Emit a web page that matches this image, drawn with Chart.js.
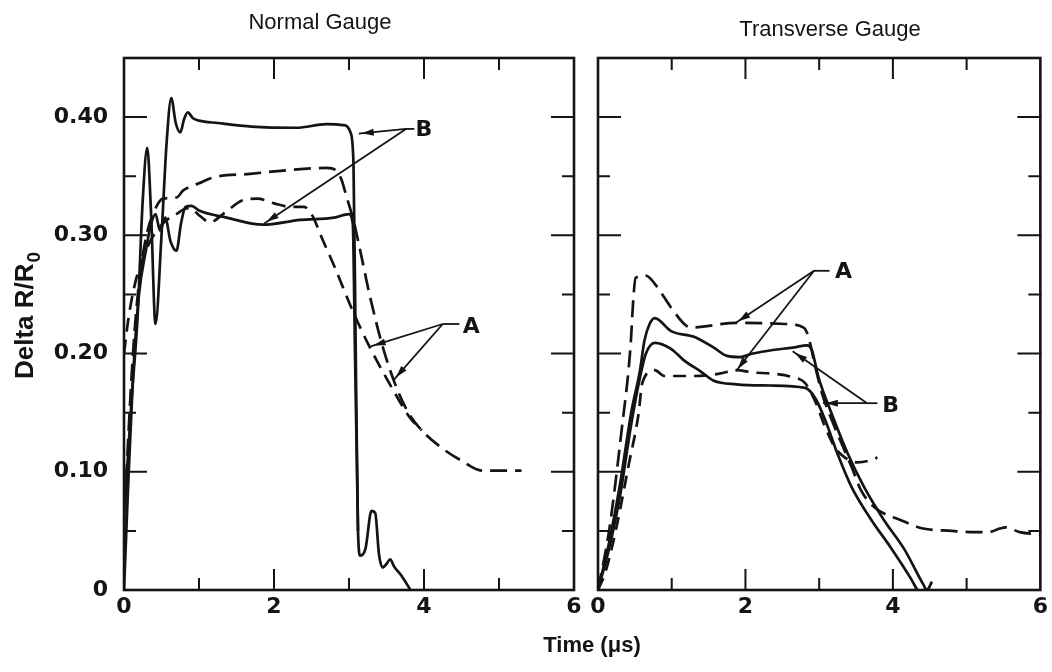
<!DOCTYPE html>
<html><head><meta charset="utf-8">
<script src="https://cdn.jsdelivr.net/npm/chart.js@4.4.1/dist/chart.umd.min.js"></script>
<style>
html,body{margin:0;padding:0;background:#fff;}
#wrap{position:relative;width:1052px;height:672px;background:#fff;}
#wrap canvas{position:absolute;left:0;top:0;}
</style></head><body>
<div id="wrap"><canvas id="c1" width="1052" height="672"></canvas><canvas id="c2" width="1052" height="672"></canvas></div>
<script>
// ---------- Normal Gauge (left panel) ----------
const normB1_t = [0, 0.1, 0.18, 0.25, 0.31, 0.36, 0.42, 0.5, 0.57, 0.63, 0.69, 0.75, 0.8, 0.85, 0.92, 1.0, 1.25, 1.7, 2.3, 2.7, 2.95, 3.02, 3.06, 3.09, 3.12, 3.15, 3.22, 3.3, 3.35, 3.4, 3.45, 3.5, 3.55, 3.6, 3.7, 3.82];
const normB1_v = [0.06, 0.16, 0.23, 0.33, 0.374, 0.32, 0.225, 0.30, 0.38, 0.416, 0.395, 0.387, 0.398, 0.404, 0.399, 0.397, 0.395, 0.392, 0.391, 0.394, 0.393, 0.387, 0.36, 0.2, 0.05, 0.029, 0.035, 0.067, 0.065, 0.03, 0.019, 0.022, 0.026, 0.02, 0.012, 0.0];
const normB2_t = [0, 0.05, 0.12, 0.2, 0.3, 0.35, 0.42, 0.48, 0.55, 0.62, 0.7, 0.76, 0.82, 0.9, 1.0, 1.37, 1.85, 2.35, 2.8, 3.0, 3.05, 3.08, 3.12];
const normB2_v = [0, 0.08, 0.18, 0.25, 0.29, 0.307, 0.318, 0.304, 0.315, 0.295, 0.287, 0.31, 0.324, 0.325, 0.321, 0.315, 0.309, 0.313, 0.315, 0.318, 0.31, 0.2, 0.05];
const normA1_t = [0, 0.05, 0.12, 0.2, 0.3, 0.4, 0.52, 0.7, 0.79, 1.0, 1.19, 1.68, 2.35, 2.7, 2.84, 2.9, 2.97, 3.05, 3.15, 3.27, 3.44, 3.61, 3.8, 3.97, 4.24, 4.51, 4.77, 5.3];
const normA1_v = [0.05, 0.12, 0.2, 0.26, 0.3, 0.32, 0.331, 0.332, 0.338, 0.344, 0.349, 0.352, 0.356, 0.357, 0.354, 0.347, 0.332, 0.315, 0.287, 0.251, 0.208, 0.175, 0.149, 0.135, 0.12, 0.109, 0.101, 0.101];
const normA2_t = [0, 0.06, 0.15, 0.25, 0.35, 0.45, 0.55, 0.7, 0.8, 0.88, 1.0, 1.15, 1.32, 1.6, 1.78, 2.0, 2.23, 2.4, 2.5, 2.65, 2.79, 3.05, 3.28, 3.59, 3.81, 3.97];
const normA2_v = [0.2, 0.23, 0.26, 0.28, 0.295, 0.305, 0.312, 0.318, 0.322, 0.323, 0.317, 0.311, 0.318, 0.33, 0.331, 0.327, 0.324, 0.324, 0.318, 0.296, 0.276, 0.236, 0.205, 0.169, 0.146, 0.135];

// ---------- Transverse Gauge (right panel) ----------
const trA1_t = [0, 0.15, 0.32, 0.44, 0.48, 0.51, 0.65, 0.77, 0.99, 1.17, 1.25, 1.88, 2.55, 2.79, 2.85, 2.95, 3.04, 3.17, 3.31, 3.44, 3.57, 3.75, 4.11, 4.41, 4.8, 5.05, 5.3, 5.45, 5.53, 5.72, 6.0];
const trA1_v = [0, 0.05, 0.135, 0.205, 0.247, 0.264, 0.266, 0.259, 0.239, 0.225, 0.222, 0.226, 0.225, 0.222, 0.215, 0.188, 0.166, 0.144, 0.123, 0.104, 0.084, 0.07, 0.059, 0.052, 0.05, 0.049, 0.049, 0.052, 0.053, 0.049, 0.047];
const trB1_t = [0, 0.15, 0.3, 0.45, 0.57, 0.63, 0.7, 0.77, 0.99, 1.31, 1.57, 1.75, 1.92, 2.1, 2.37, 2.64, 2.84, 2.9, 2.99, 3.17, 3.39, 3.61, 3.88, 4.15, 4.41, 4.46, 4.53];
const trB1_v = [0, 0.04, 0.09, 0.15, 0.186, 0.211, 0.225, 0.23, 0.219, 0.214, 0.205, 0.198, 0.197, 0.2, 0.203, 0.205, 0.207, 0.203, 0.18, 0.149, 0.115, 0.087, 0.059, 0.035, 0.005, 0.0, 0.007];
const trB2_t = [0, 0.15, 0.3, 0.45, 0.57, 0.65, 0.77, 0.99, 1.17, 1.39, 1.57, 1.88, 2.33, 2.81, 2.95, 3.08, 3.25, 3.44, 3.71, 3.97, 4.24, 4.33];
const trB2_v = [0, 0.035, 0.08, 0.14, 0.18, 0.2, 0.209, 0.204, 0.194, 0.185, 0.177, 0.174, 0.173, 0.171, 0.162, 0.144, 0.115, 0.087, 0.059, 0.036, 0.01, 0.0];
const trA2_t = [0, 0.1, 0.24, 0.42, 0.55, 0.6, 0.77, 0.9, 1.3, 1.65, 1.88, 2.1, 2.37, 2.64, 2.81, 2.95, 3.08, 3.21, 3.35, 3.52, 3.71, 3.79];
const trA2_v = [0, 0.015, 0.05, 0.107, 0.149, 0.175, 0.186, 0.181, 0.181, 0.183, 0.186, 0.184, 0.183, 0.18, 0.175, 0.159, 0.138, 0.121, 0.112, 0.108, 0.11, 0.112];

// ---------- axis ticks and labels ----------
const xTickValues = [0, 1, 2, 3, 4, 5, 6];
const xTickLabels = ['0', '', '2', '', '4', '', '6'];
const yTickValues = [0, 0.05, 0.10, 0.15, 0.20, 0.25, 0.30, 0.35, 0.40, 0.45];
const yTickLabels = ['0', '', '0.10', '', '0.20', '', '0.30', '', '0.40', ''];

// ---------- annotations (data units) ----------
const normNotes = [['B', 4.0, 0.39], ['A', 4.63, 0.223]];
const normLeads = [[3.76, 0.39, 3.87, 0.39], [4.25, 0.225, 4.47, 0.225]];
const normArrows = [[3.76, 0.39, 3.13, 0.386], [3.76, 0.39, 1.87, 0.31], [4.25, 0.225, 3.29, 0.206], [4.25, 0.225, 3.6, 0.178]];
const trNotes = [['A', 3.33, 0.27], ['B', 3.97, 0.156]];
const trLeads = [[2.93, 0.27, 3.14, 0.27], [3.65, 0.158, 3.79, 0.158]];
const trArrows = [[2.93, 0.27, 1.87, 0.226], [2.93, 0.27, 1.87, 0.185], [3.65, 0.158, 2.64, 0.202], [3.65, 0.158, 3.05, 0.158]];

const INK = '#141414';
const FONT = "'Liberation Sans', Arial, Helvetica, sans-serif";
const NUMFONT = "'DejaVu Sans', 'Liberation Sans', sans-serif";

function pts(t, v) { return t.map((x, i) => ({ x: x, y: v[i] })); }
function line(t, v, dash) {
  return { data: pts(t, v), borderColor: INK, borderWidth: 2.7, borderDash: dash || [],
           pointRadius: 0, fill: false, cubicInterpolationMode: 'monotone', borderCapStyle: 'butt' };
}
function labelFor(values, labels) {
  return function (v) { const i = values.findIndex(a => Math.abs(a - v) < 1e-6); return i >= 0 ? labels[i] : ''; };
}
function isMajor(values, labels, v) { const i = values.findIndex(a => Math.abs(a - v) < 1e-6); return i >= 0 && labels[i] !== ''; }

const frameTicks = {
  id: 'frameTicks',
  afterDraw(chart) {
    const { ctx, chartArea: a, scales } = chart;
    ctx.save();
    ctx.strokeStyle = INK; ctx.lineWidth = 2.6; ctx.lineCap = 'square';
    ctx.strokeRect(a.left, a.top, a.right - a.left, a.bottom - a.top);
    ctx.lineWidth = 2;
    ctx.beginPath();
    scales.x.ticks.forEach(t => {
      if (t.value <= scales.x.min || t.value >= scales.x.max) return;
      const px = scales.x.getPixelForValue(t.value);
      const L = isMajor(xTickValues, xTickLabels, t.value) ? 20 : 11;
      ctx.moveTo(px, a.bottom); ctx.lineTo(px, a.bottom - L);
      ctx.moveTo(px, a.top); ctx.lineTo(px, a.top + L);
    });
    scales.y.ticks.forEach(t => {
      if (t.value <= scales.y.min + 1e-9 || t.value >= scales.y.max - 1e-9) return;
      const py = scales.y.getPixelForValue(t.value);
      const L = isMajor(yTickValues, yTickLabels, t.value) ? 22 : 11;
      ctx.moveTo(a.left, py); ctx.lineTo(a.left + L, py);
      ctx.moveTo(a.right, py); ctx.lineTo(a.right - L, py);
    });
    ctx.stroke();
    ctx.restore();
  }
};

const notesPlugin = {
  id: 'notes',
  afterDatasetsDraw(chart, args, opts) {
    const { ctx, scales } = chart;
    const X = v => scales.x.getPixelForValue(v), Y = v => scales.y.getPixelForValue(v);
    ctx.save();
    ctx.strokeStyle = INK; ctx.fillStyle = INK; ctx.lineWidth = 1.8;
    (opts.leads || []).forEach(s => {
      ctx.beginPath(); ctx.moveTo(X(s[0]), Y(s[1])); ctx.lineTo(X(s[2]), Y(s[3])); ctx.stroke();
    });
    (opts.arrows || []).forEach(s => {
      const x1 = X(s[0]), y1 = Y(s[1]), x2 = X(s[2]), y2 = Y(s[3]);
      ctx.beginPath(); ctx.moveTo(x1, y1); ctx.lineTo(x2, y2); ctx.stroke();
      const ang = Math.atan2(y2 - y1, x2 - x1), len = 12, w = 3.5;
      const bx = x2 - Math.cos(ang) * 3, by = y2 - Math.sin(ang) * 3;
      ctx.beginPath();
      ctx.moveTo(bx, by);
      ctx.lineTo(bx - Math.cos(ang) * len - Math.sin(ang) * w, by - Math.sin(ang) * len + Math.cos(ang) * w);
      ctx.lineTo(bx - Math.cos(ang) * len + Math.sin(ang) * w, by - Math.sin(ang) * len - Math.cos(ang) * w);
      ctx.closePath(); ctx.fill();
    });
    ctx.font = "bold 22px " + NUMFONT; ctx.textAlign = 'center'; ctx.textBaseline = 'middle';
    (opts.labels || []).forEach(l => ctx.fillText(l[0], X(l[1]), Y(l[2]) + 1));
    ctx.restore();
  }
};

const textPlugin = {
  id: 'freeText',
  afterDraw(chart, args, opts) {
    const ctx = chart.ctx;
    ctx.save(); ctx.fillStyle = INK; ctx.textAlign = 'center'; ctx.textBaseline = 'middle';
    (opts.items || []).forEach(it => { ctx.font = it.font; ctx.fillText(it.text, it.x, it.y); });
    (opts.rotated || []).forEach(it => {
      ctx.save();
      ctx.translate(it.x, it.y); ctx.rotate(-Math.PI / 2);
      ctx.textAlign = 'left'; ctx.textBaseline = 'alphabetic';
      ctx.font = it.font; const w1 = ctx.measureText(it.text).width;
      ctx.font = it.subFont; const w2 = ctx.measureText(it.sub).width;
      const start = -(w1 + w2) / 2, base = it.base;
      ctx.font = it.font; ctx.fillText(it.text, start, base);
      ctx.font = it.subFont; ctx.fillText(it.sub, start + w1 + 1, base + it.subDrop);
      ctx.restore();
    });
    ctx.restore();
  }
};

function makeChart(id, datasets, cfg) {
  return new Chart(document.getElementById(id), {
    type: 'line',
    data: { datasets: datasets },
    plugins: [frameTicks, notesPlugin, textPlugin],
    options: {
      responsive: false, animation: false, devicePixelRatio: 1,
      layout: { padding: cfg.padding },
      plugins: {
        legend: { display: false }, tooltip: { enabled: false }, title: { display: false },
        notes: { labels: cfg.notes, leads: cfg.leads, arrows: cfg.arrows },
        freeText: { items: cfg.texts, rotated: cfg.rotated }
      },
      scales: {
        x: {
          type: 'linear', min: 0, max: 6,
          afterBuildTicks: s => { s.ticks = xTickValues.map(v => ({ value: v })); },
          afterFit: s => { s.height = 82; },
          grid: { display: true, drawOnChartArea: false, drawTicks: false },
          border: { display: false },
          ticks: { autoSkip: false, maxRotation: 0, padding: 4, color: INK,
                   font: { family: NUMFONT, size: 22, weight: 'bold' },
                   callback: labelFor(xTickValues, xTickLabels) }
        },
        y: {
          type: 'linear', min: 0, max: 0.45,
          afterBuildTicks: s => { s.ticks = yTickValues.map(v => ({ value: v })); },
          afterFit: s => { s.width = cfg.yWidth; },
          grid: { display: true, drawOnChartArea: false, drawTicks: false },
          border: { display: false },
          ticks: { display: cfg.yLabels, autoSkip: false, padding: 16, color: INK,
                   font: { family: NUMFONT, size: 22, weight: 'bold' },
                   callback: labelFor(yTickValues, yTickLabels) },
          title: { display: false }
        }
      }
    }
  });
}

makeChart('c1', [
  line(normB1_t, normB1_v),
  line(normB2_t, normB2_v),
  line(normA1_t, normA1_v, [17, 8]),
  line(normA2_t, normA2_v, [14, 8])
], {
  padding: { left: 0, right: 1052 - 574, top: 58, bottom: 0 }, yWidth: 124, yLabels: true,
  notes: normNotes, leads: normLeads, arrows: normArrows,
  texts: [
    { text: 'Normal Gauge', x: 320, y: 23, font: "22px " + FONT },
    { text: 'Time (\u03bcs)', x: 592, y: 646, font: "bold 22px " + FONT }
  ],
  rotated: [
    { text: 'Delta R/R', sub: '0', x: 23, y: 316, base: 9.5, subDrop: 7,
      font: "bold 26px " + FONT, subFont: "bold 19px " + FONT }
  ]
});

makeChart('c2', [
  line(trA1_t, trA1_v, [17, 8]),
  line(trB1_t, trB1_v),
  line(trB2_t, trB2_v),
  line(trA2_t, trA2_v, [13, 8])
], {
  padding: { left: 598, right: 4, top: 58, bottom: 0 }, yWidth: 0, yLabels: false,
  notes: trNotes, leads: trLeads, arrows: trArrows,
  texts: [
    { text: 'Transverse Gauge', x: 830, y: 30, font: "22px " + FONT }
  ],
  rotated: []
});
</script>
</body></html>
